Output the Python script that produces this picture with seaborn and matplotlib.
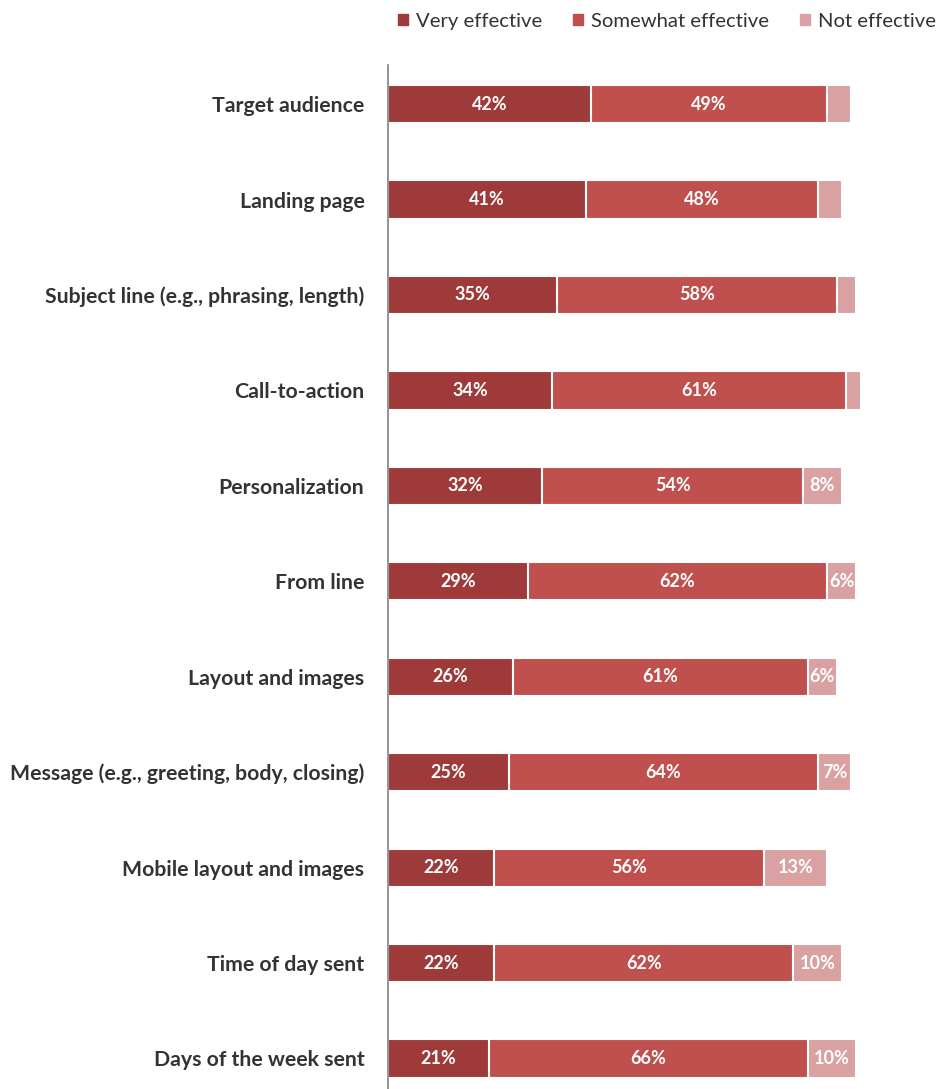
import matplotlib.pyplot as plt
import pandas as pd
import seaborn as sns
from matplotlib.patches import Patch

# Data
categories = ['Target audience', 'Landing page', 'Subject line (e.g., phrasing, length)',
              'Call-to-action', 'Personalization', 'From line', 'Layout and images',
              'Message (e.g., greeting, body, closing)', 'Mobile layout and images',
              'Time of day sent', 'Days of the week sent']
very = [42, 41, 35, 34, 32, 29, 26, 25, 22, 22, 21]
somewhat = [49, 48, 58, 61, 54, 62, 61, 64, 56, 62, 66]
not_eff = [5, 5, 4, 3, 8, 6, 6, 7, 13, 10, 10]
# the small "not effective" values on top rows carry no label in the original
not_labels = ['', '', '', '', '8%', '6%', '6%', '7%', '13%', '10%', '10%']

df = pd.DataFrame({'cat': categories, 'very': very, 'somewhat': somewhat, 'not': not_eff})
df['mid'] = df['very'] + df['somewhat']
df['total'] = df['mid'] + df['not']

c_very, c_some, c_not = '#9e3b3a', '#c0504d', '#d9a1a1'

sns.set_style('white')
plt.rcParams['font.family'] = ['Lato', 'DejaVu Sans']

fig = plt.figure(figsize=(9.43, 10.89), dpi=100)
ax = fig.add_axes([388 / 943, 0.0, 1 - 388 / 943, 1 - 65 / 1089])

# stacked bars by overlaying cumulative totals
sns.barplot(data=df, x='total', y='cat', color=c_not, width=0.4, ax=ax,
            edgecolor='white', linewidth=1.5, saturation=1)
sns.barplot(data=df, x='mid', y='cat', color=c_some, width=0.4, ax=ax,
            edgecolor='white', linewidth=1.5, saturation=1)
sns.barplot(data=df, x='very', y='cat', color=c_very, width=0.4, ax=ax,
            edgecolor='white', linewidth=1.5, saturation=1)

for i, row in df.iterrows():
    kw = dict(ha='center', va='center', color='white', fontsize=13, fontweight='bold')
    ax.text(row['very'] / 2, i, f"{row['very']}%", **kw)
    ax.text(row['very'] + row['somewhat'] / 2, i, f"{row['somewhat']}%", **kw)
    if not_labels[i]:
        ax.text(row['mid'] + row['not'] / 2, i, not_labels[i], **kw)

ax.set_xlim(0, 115)
ax.set_ylim(10.32, -0.41)
ax.set_xlabel('')
ax.set_ylabel('')
ax.set_xticks([])
for s in ['top', 'right', 'bottom']:
    ax.spines[s].set_visible(False)
ax.spines['left'].set_color('#808080')
ax.spines['left'].set_linewidth(1.2)
ax.tick_params(axis='y', length=0, pad=17, labelsize=15.3, labelcolor='#333333')
for lbl in ax.get_yticklabels():
    lbl.set_fontweight('bold')

# legend
handles = [Patch(color=c_very, label='Very effective'),
           Patch(color=c_some, label='Somewhat effective'),
           Patch(color=c_not, label='Not effective')]
fig.legend(handles=handles, loc='upper right', bbox_to_anchor=(1.012, 1.005), ncol=3,
           frameon=False, fontsize=14.6, handlelength=0.5, handleheight=0.5,
           handletextpad=0.4, columnspacing=1.5, labelcolor='#333333')

fig.savefig('out.png', dpi=100)
